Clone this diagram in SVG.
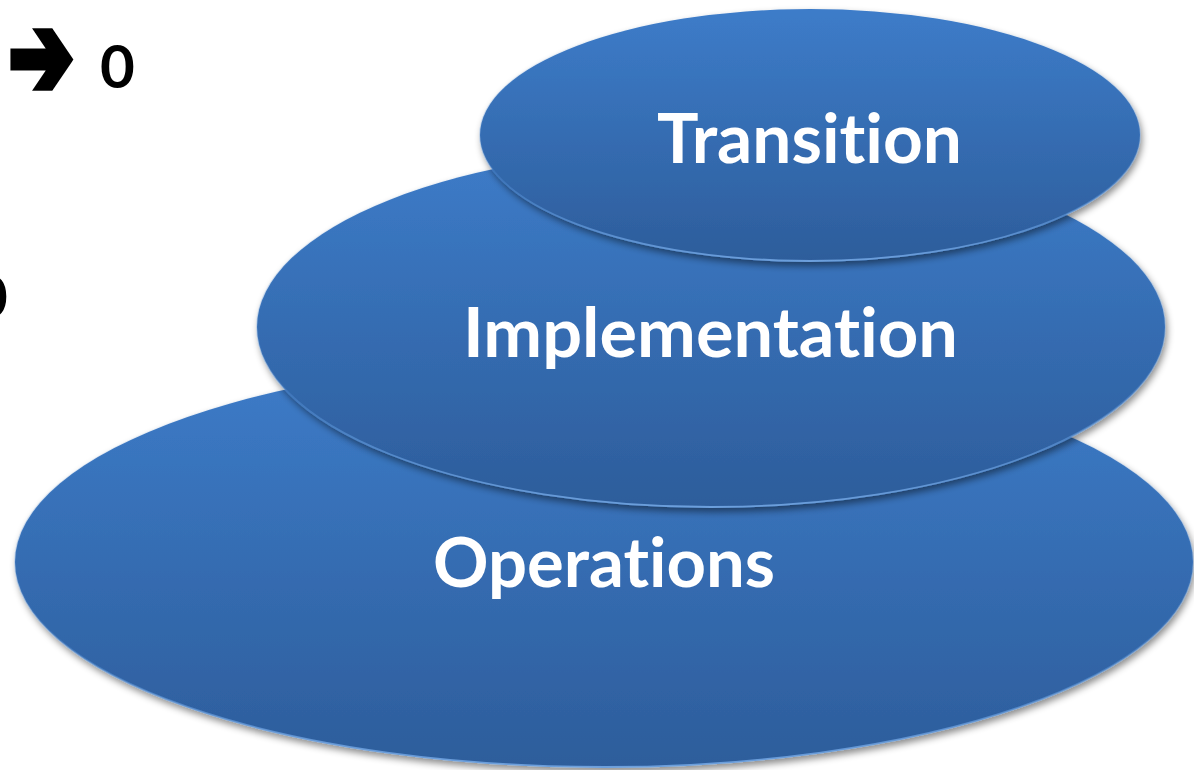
<svg xmlns="http://www.w3.org/2000/svg" width="1194" height="770" viewBox="0 0 1194 770">
  <defs>
    <linearGradient id="fillGrad" x1="0" y1="0" x2="0" y2="1">
      <stop offset="0" stop-color="#3d7cc9"/>
      <stop offset="1" stop-color="#2d5d9b"/>
    </linearGradient>
    <linearGradient id="edgeGrad" x1="0" y1="0" x2="0" y2="1">
      <stop offset="0" stop-color="#3d7cc9" stop-opacity="0"/>
      <stop offset="0.6" stop-color="#4a86cf" stop-opacity="0.3"/>
      <stop offset="1" stop-color="#6c9fdc" stop-opacity="1"/>
    </linearGradient>
    <filter id="shadow" x="-10%" y="-10%" width="120%" height="130%">
      <feDropShadow dx="2" dy="4" stdDeviation="3.5" flood-color="#000" flood-opacity="0.45"/>
    </filter>
    <style>
      .disc { fill: url(#fillGrad); stroke: url(#edgeGrad); stroke-width: 1.8; filter: url(#shadow); }
      .label { font-family: Lato, "Open Sans", "Liberation Sans", sans-serif; font-weight: bold; fill: #ffffff; font-size: 68px; font-variant-ligatures: none; font-feature-settings: "liga" 0, "clig" 0; }
      .side { font-family: Lato, "Liberation Sans", sans-serif; font-weight: bold; fill: #000000; font-size: 60px; }
      .arrow { font-family: "DejaVu Sans", sans-serif; font-size: 78px; fill: #000000; stroke: #000000; stroke-width: 6; stroke-linejoin: miter; }
    </style>
  </defs>
  <rect width="1194" height="770" fill="#ffffff"/>

  <g id="side-text">
    <text class="arrow" x="9" y="91" textLength="64" lengthAdjust="spacingAndGlyphs" transform="translate(0,63) scale(1,1.45) translate(0,-69)">➔</text>
    <text class="side" x="100" y="88">0</text>
    <text class="side" x="-27" y="318">0</text>
  </g>

  <g id="operations">
    <ellipse class="disc" cx="604" cy="562" rx="589" ry="205"/>
    <text class="label" x="433" y="587" textLength="342" lengthAdjust="spacingAndGlyphs">Operations</text>
  </g>

  <g id="implementation">
    <ellipse class="disc" cx="711" cy="327" rx="454" ry="180"/>
    <text class="label" x="463" y="357" textLength="495" lengthAdjust="spacingAndGlyphs">Implementation</text>
  </g>

  <g id="transition">
    <ellipse class="disc" cx="810" cy="135" rx="330" ry="126"/>
    <text class="label" x="657" y="163" textLength="305" lengthAdjust="spacingAndGlyphs">Transition</text>
  </g>

  <g id="connectors"/>
</svg>
